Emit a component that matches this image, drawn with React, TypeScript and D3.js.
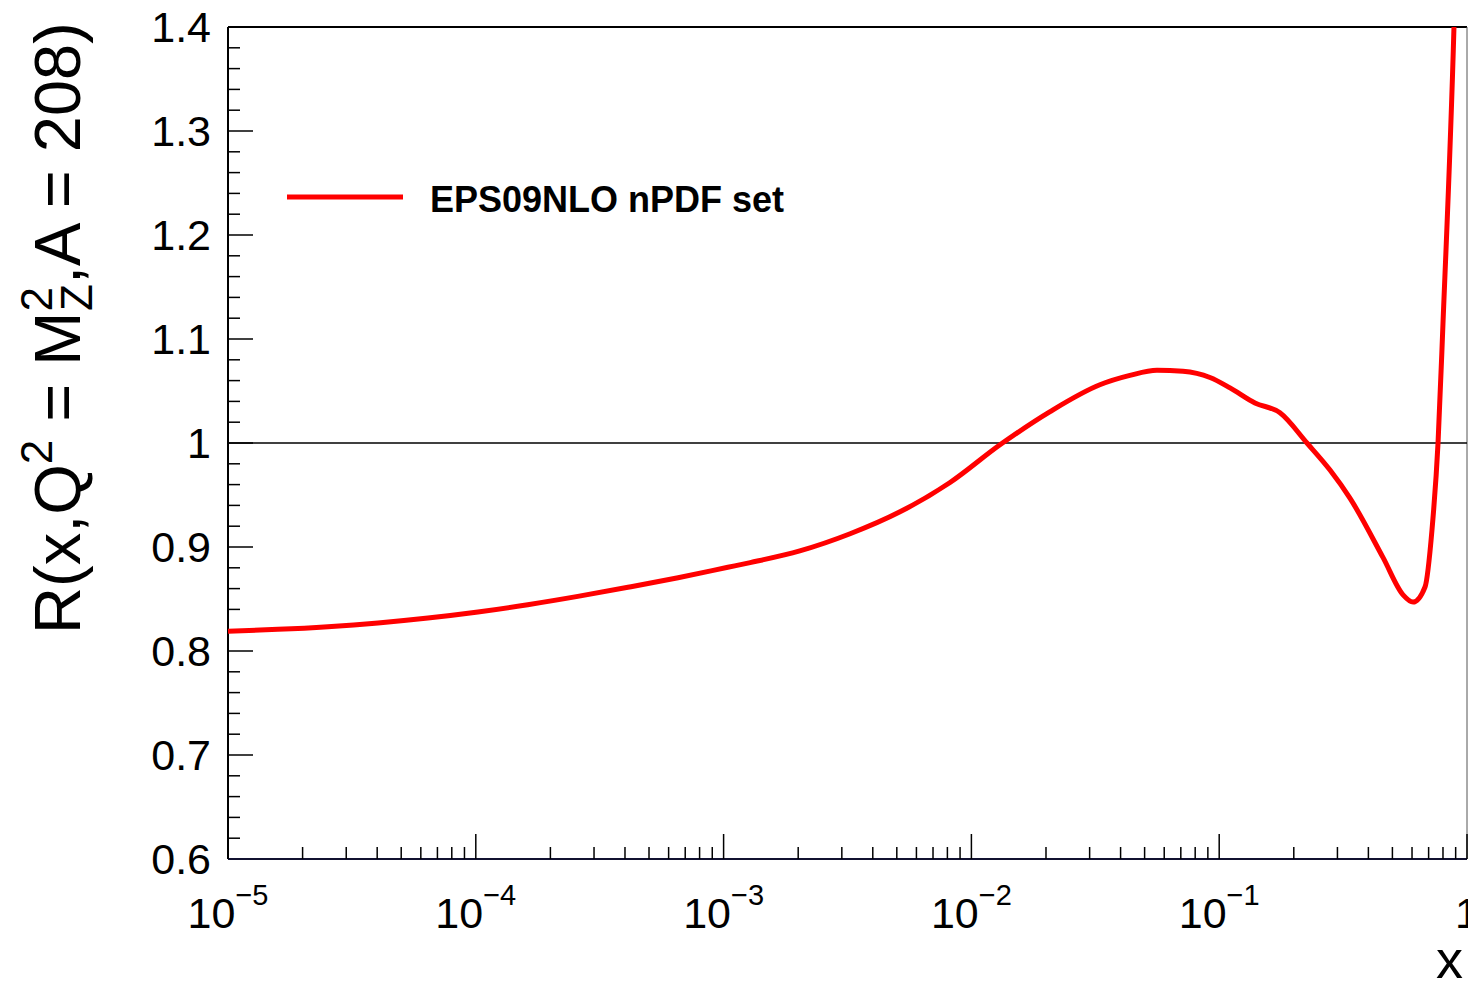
import React from "react";
import * as d3 from "d3";

// Nuclear modification ratio R(x) for Pb (A = 208) at Q^2 = M_Z^2
const xValues = [
  1e-5, 1.59e-5, 2.53e-5, 4.03e-5, 6.41e-5, 1.02e-4, 1.62e-4, 2.58e-4, 4.11e-4,
  6.55e-4, 1.04e-3, 1.28e-3, 2.03e-3, 3.24e-3, 5.15e-3, 8.2e-3, 1.3e-2, 2.07e-2,
  3.3e-2, 4.36e-2, 5.61e-2, 7.14e-2, 9.18e-2, 0.1106, 0.1394, 0.1759, 0.226,
  0.28, 0.337, 0.458, 0.552, 0.606, 0.677, 0.722, 0.764, 0.8, 0.886, 0.92,
];
const rValues = [
  0.819, 0.8208, 0.8234, 0.827, 0.8317, 0.8375, 0.8445, 0.8525, 0.8613,
  0.8705, 0.8805, 0.885, 0.8962, 0.9127, 0.9338, 0.962, 0.998, 1.03, 1.056,
  1.065, 1.07, 1.069, 1.063, 1.053, 1.0385, 1.029, 1.0, 0.974, 0.947, 0.89,
  0.854, 0.847, 0.8615, 0.916, 1.0, 1.115, 1.4, 1.55,
];

const yMajorTicks = [0.6, 0.7, 0.8, 0.9, 1.0, 1.1, 1.2, 1.3, 1.4];
const yTickLabels = ["0.6", "0.7", "0.8", "0.9", "1", "1.1", "1.2", "1.3", "1.4"];
const xDecades = [-5, -4, -3, -2, -1, 0];
const legendLabel = "EPS09NLO nPDF set";

const W = 1468;
const H = 984;
const left = 228;
const right = 1467;
const top = 27;
const bottom = 859;
const FONT = "'Liberation Sans', Arial, Helvetica, sans-serif";

export default function App() {
  const x = d3.scaleLog().domain([1e-5, 1]).range([left, right]);
  const y = d3.scaleLinear().domain([0.6, 1.4]).range([bottom, top]);

  const data = xValues.map((v, i) => [v, rValues[i]] as [number, number]);
  const line = d3
    .line<[number, number]>()
    .x((d) => x(d[0]))
    .y((d) => y(d[1]))
    .curve(d3.curveMonotoneX);

  // minor y ticks every 0.02
  const yMinor = d3.range(0, 41).map((i) => 0.6 + i * 0.02);
  // minor x ticks 2..9 within each decade
  const xMinor: number[] = [];
  for (let e = -5; e < 0; e++) {
    for (let m = 2; m <= 9; m++) xMinor.push(m * Math.pow(10, e));
  }

  return (
    <svg
      width={W}
      height={H}
      style={{ position: "absolute", left: 0, top: 0, background: "#fff" }}
      fontFamily={FONT}
    >
      <defs>
        <clipPath id="plotArea">
          <rect x={left} y={top} width={right - left} height={bottom - top} />
        </clipPath>
      </defs>

      {/* frame */}
      <line x1={left} y1={top} x2={right} y2={top} stroke="#000" strokeWidth={2} />
      <line x1={right} y1={top} x2={right} y2={bottom} stroke="#555" strokeWidth={1} />

      {/* reference line at R = 1 */}
      <line x1={left} y1={y(1)} x2={right} y2={y(1)} stroke="#000" strokeWidth={1.5} />

      {/* y axis */}
      <line x1={left} y1={top} x2={left} y2={bottom} stroke="#000" strokeWidth={2} />
      {yMinor.map((v, i) => (
        <line
          key={"ym" + i}
          x1={left}
          x2={left + (i % 5 === 0 ? 25 : 12)}
          y1={y(v)}
          y2={y(v)}
          stroke="#000"
          strokeWidth={1.5}
        />
      ))}
      {yMajorTicks.map((v, i) => (
        <text
          key={"yl" + i}
          x={left - 17}
          y={y(v)}
          dy="0.36em"
          textAnchor="end"
          fontSize={43}
          fill="#000"
        >
          {yTickLabels[i]}
        </text>
      ))}

      {/* x axis */}
      <line x1={left} y1={bottom} x2={right} y2={bottom} stroke="#111130" strokeWidth={2} />
      {xMinor.map((v, i) => (
        <line
          key={"xm" + i}
          x1={x(v)}
          x2={x(v)}
          y1={bottom}
          y2={bottom - 12}
          stroke="#000"
          strokeWidth={1.5}
        />
      ))}
      {xDecades.map((e) => (
        <line
          key={"xM" + e}
          x1={x(Math.pow(10, e))}
          x2={x(Math.pow(10, e))}
          y1={bottom}
          y2={bottom - 25}
          stroke="#000"
          strokeWidth={1.5}
        />
      ))}
      {xDecades.map((e) =>
        e === 0 ? (
          <text
            key={"xl" + e}
            x={x(1)}
            y={928}
            textAnchor="middle"
            fontSize={43}
            fill="#000"
          >
            1
          </text>
        ) : (
          <text
            key={"xl" + e}
            x={x(Math.pow(10, e))}
            y={928}
            textAnchor="middle"
            fontSize={43}
            fill="#000"
          >
            10
            <tspan fontSize={29} dy={-23}>
              {"\u2212" + Math.abs(e)}
            </tspan>
          </text>
        )
      )}
      <text x={1463} y={978} textAnchor="end" fontSize={54} fill="#000">
        x
      </text>

      {/* y axis title */}
      <text
        transform={`translate(80, 328) rotate(-90)`}
        textAnchor="middle"
        fontSize={65}
        fill="#000"
      >
        R(x,Q
        <tspan fontSize={44} dy={-28}>2</tspan>
        <tspan dy={28}> = M</tspan>
        <tspan fontSize={44} dy={-28}>2</tspan>
        <tspan fontSize={44} dx={-24} dy={40}>Z</tspan>
        <tspan dy={-12}>,A = 208)</tspan>
      </text>

      {/* curve */}
      <path
        d={line(data) || ""}
        fill="none"
        stroke="#ff0000"
        strokeWidth={5}
        strokeLinejoin="round"
        clipPath="url(#plotArea)"
      />

      {/* legend */}
      <line x1={287} x2={403} y1={197} y2={197} stroke="#ff0000" strokeWidth={5} />
      <text x={430} y={212} fontSize={36} fontWeight="bold" fill="#000">
        {legendLabel}
      </text>
    </svg>
  );
}
